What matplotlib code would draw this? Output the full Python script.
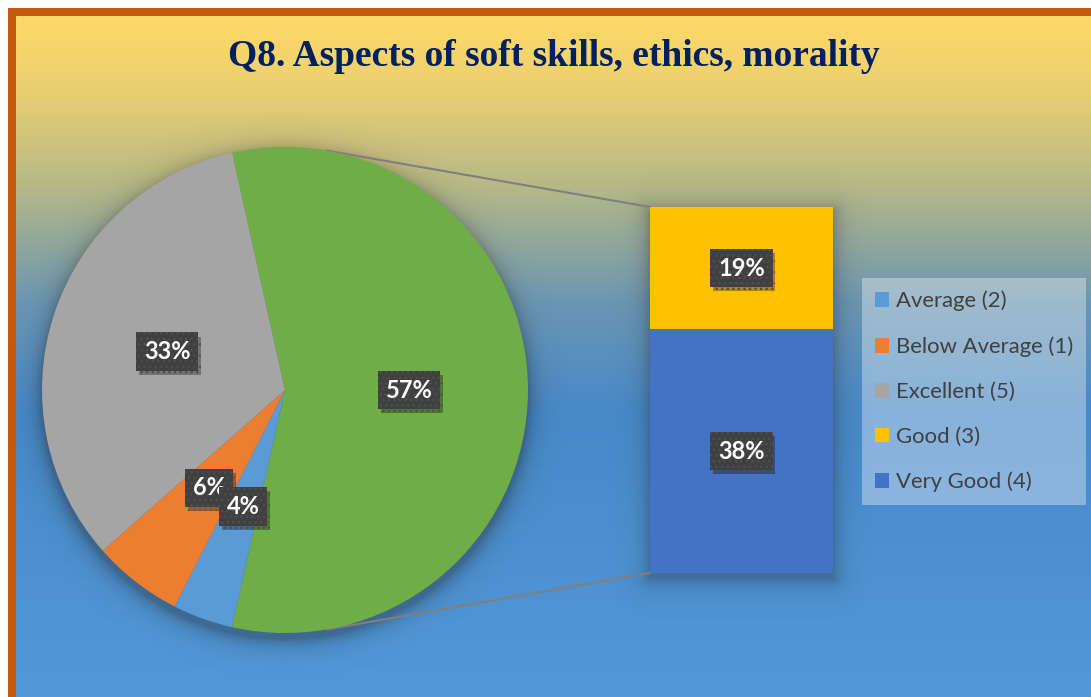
import numpy as np
import matplotlib
matplotlib.use('Agg')
import matplotlib.pyplot as plt
from matplotlib.patches import Rectangle
from matplotlib import patheffects as pe

W, H = 1091, 697

title = 'Q8. Aspects of soft skills, ethics, morality'
# pie part (clockwise after the combined slice)
pie_names = ['Average (2)', 'Below Average (1)', 'Excellent (5)']
pie_vals = [4, 6, 33]
pie_colors = ['#5B9BD5', '#ED7D31', '#A5A5A5']
# bar part, bottom to top
bar_names = ['Very Good (4)', 'Good (3)']
bar_vals = [38, 19]
bar_colors = ['#4472C4', '#FFC000']
other_color = '#70AD47'
legend_order = ['Average (2)', 'Below Average (1)', 'Excellent (5)', 'Good (3)', 'Very Good (4)']

# layout in pixels
pcx, pcy, pr = 285, 390, 243
bx, by, bw, bh = 650, 207, 183, 366


def px_rect(x, y, w, h):
    return [x / W, 1 - (y + h) / H, w / W, h / H]


fig = plt.figure(figsize=(W / 100, H / 100), dpi=100)
bg = fig.add_axes([0, 0, 1, 1], zorder=0)
bg.axis('off')

# orange frame and gradient fill
bg.add_patch(Rectangle((8, 8), W, H, facecolor='#C55A11', edgecolor='none', zorder=0))
stops_t = [0.0, 0.1, 0.25, 0.42, 0.58, 1.0]
stops_c = np.array([[255, 217, 102], [236, 208, 112], [182, 184, 135],
                    [108, 150, 178], [72, 137, 200], [82, 152, 216]]) / 255.0
t = np.linspace(0, 1, H)
grad = np.stack([np.interp(t, stops_t, stops_c[:, k]) for k in range(3)], axis=1)
bg.imshow(grad[:, None, :], extent=(16, W, H, 16), aspect='auto', origin='upper', zorder=1)

# soft shadows under pie and bar
yy, xx = np.mgrid[0:H, 0:W] + 0.5
dpie = np.clip(np.hypot(xx - pcx, yy - (pcy + 6)) - pr, 0, None)
a_pie = 0.36 * np.exp(-dpie / 9.0)
ddx = np.maximum(np.maximum(bx - xx, xx - (bx + bw)), 0)
ddy = np.maximum(np.maximum(by + 5 - yy, yy - (by + bh + 5)), 0)
a_bar = 0.3 * np.exp(-np.hypot(ddx, ddy) / 9.0)
shadow = np.zeros((H, W, 4))
shadow[..., :3] = 0.12
shadow[..., 3] = np.maximum(a_pie, a_bar)
bg.imshow(shadow, extent=(0, W, H, 0), aspect='auto', origin='upper', zorder=2)

# connector lines (tangents from bar corners to the pie)
for cy_corner, sgn in [(by, 1), (by + bh, -1)]:
    vx, vy = bx - pcx, pcy - cy_corner
    dist = np.hypot(vx, vy)
    th = np.arctan2(vy, vx) + sgn * np.arccos(pr / dist)
    tx, ty = pcx + pr * np.cos(th), pcy - pr * np.sin(th)
    bg.plot([tx, bx], [ty, cy_corner], color='#7F7F7F', lw=1.5, zorder=3)

bg.set_xlim(0, W)
bg.set_ylim(H, 0)

label_style = dict(color='white', fontweight='bold', fontsize=17, family='Lato',
                   ha='center', va='center')
box_style = dict(boxstyle='square,pad=0.33', facecolor='#404040',
                 edgecolor='#4E4E4E', linewidth=0, hatch='...')


def style_label(txt, z=5):
    txt.set(**label_style)
    txt.set_bbox(box_style)
    txt.set_zorder(z)
    txt.get_bbox_patch().set_path_effects(
        [pe.SimplePatchShadow(offset=(2, -3), alpha=0.3, shadow_rgbFace='black'), pe.Normal()])


# pie with the combined slice centred on the right
axp = fig.add_axes(px_rect(pcx - pr, pcy - pr, 2 * pr, 2 * pr), zorder=2)
other = sum(bar_vals)
wedges, _, autotexts = axp.pie(
    [other] + pie_vals, colors=[other_color] + pie_colors, radius=1,
    startangle=180 * other / 100, counterclock=False,
    autopct=lambda p: f'{p:.0f}%', pctdistance=0.51,
    wedgeprops=dict(linewidth=0))
for i, at in enumerate(autotexts):
    style_label(at, z=6 if i == 1 else 5)
axp.set_xlim(-1, 1)
axp.set_ylim(-1, 1)
axp.axis('off')

# stacked bar breaking down the combined slice
axb = fig.add_axes(px_rect(bx, by, bw, bh), zorder=2)
bottom = 0
bar_patches = {}
for name, v, c in zip(bar_names, bar_vals, bar_colors):
    bars = axb.bar(0, v, bottom=bottom, width=1, color=c, linewidth=0)
    bar_patches[name] = bars[0]
    txt = axb.text(0, bottom + v / 2, f'{v}%')
    style_label(txt)
    bottom += v
axb.set_xlim(-0.5, 0.5)
axb.set_ylim(0, other)
axb.axis('off')

handles = {n: w for n, w in zip(pie_names, wedges[1:])}
handles.update(bar_patches)
leg = fig.legend([handles[n] for n in legend_order], legend_order,
                 loc='upper left', bbox_to_anchor=(862 / W, 1 - 278 / H),
                 prop=dict(family='Lato', size=15.9), labelcolor='#404040',
                 handlelength=0.65, handleheight=0.65, handletextpad=0.3,
                 labelspacing=1.13, borderpad=0.58, borderaxespad=0,
                 fancybox=False, frameon=True, framealpha=0.35, facecolor='white')
leg.get_frame().set_edgecolor('none')
leg.set_zorder(3)

fig.text(554 / W, 1 - 57 / H, title, ha='center', va='center',
         family='Liberation Serif', fontweight='bold', fontsize=27, color='#002060')

fig.savefig('out.png', dpi=100)
